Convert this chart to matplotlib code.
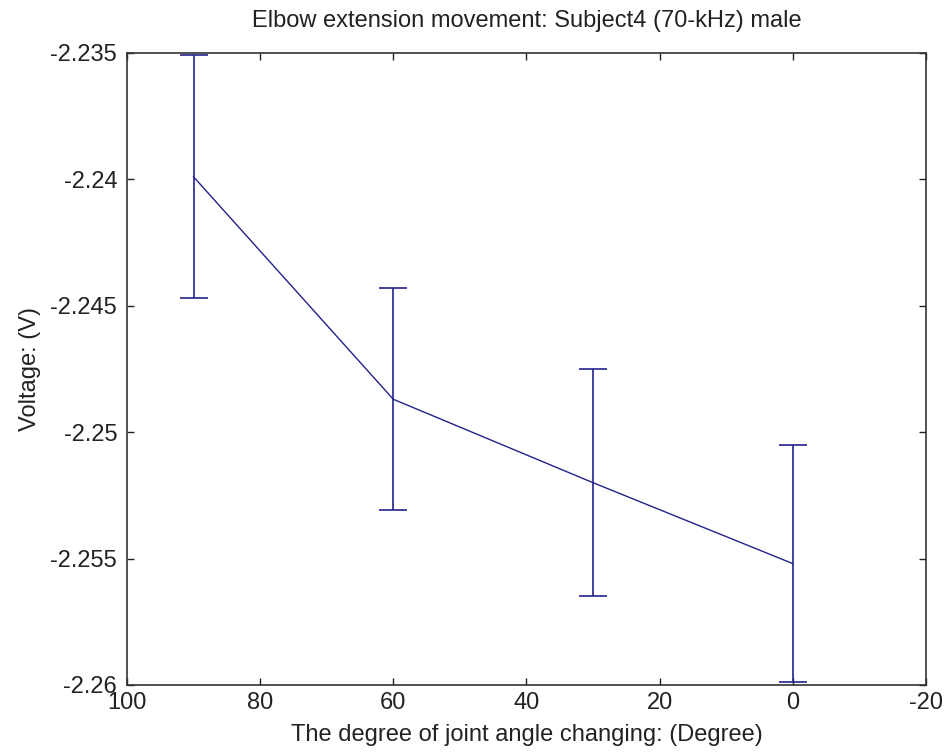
import matplotlib
matplotlib.use("Agg")
import matplotlib.pyplot as plt
from matplotlib.ticker import FixedLocator, FixedFormatter

plt.rcParams['font.family'] = ['Liberation Sans', 'DejaVu Sans']

# Joint angle (degrees) and mean voltage with its spread
angles = [90, 60, 30, 0]
voltage_mean = [-2.2399, -2.2487, -2.2520, -2.2552]
voltage_err = [0.0048, 0.0044, 0.0045, 0.0047]

x_ticks = [100, 80, 60, 40, 20, 0, -20]
x_tick_labels = ['100', '80', '60', '40', '20', '0', '-20']
y_ticks = [-2.235, -2.24, -2.245, -2.25, -2.255, -2.26]
y_tick_labels = ['-2.235', '-2.24', '-2.245', '-2.25', '-2.255', '-2.26']

title_text = 'Elbow extension movement: Subject4 (70-kHz) male'
x_label = 'The degree of joint angle changing: (Degree)'
y_label = 'Voltage: (V)'

fig = plt.figure(figsize=(9.46, 7.56), dpi=100)
ax = fig.add_axes([0.1342, 0.094, 0.8446, 0.836])

color = '#22228c'
ax.errorbar(angles, voltage_mean, yerr=voltage_err, color=color,
            ecolor=color, elinewidth=1.2, linewidth=1.0, capsize=10,
            capthick=1.2)

ax.set_xlim(100, -20)
ax.set_ylim(-2.26, -2.235)
ax.xaxis.set_major_locator(FixedLocator(x_ticks))
ax.xaxis.set_major_formatter(FixedFormatter(x_tick_labels))
ax.yaxis.set_major_locator(FixedLocator(y_ticks))
ax.yaxis.set_major_formatter(FixedFormatter(y_tick_labels))

ax.tick_params(direction='in', length=5, width=1, top=True, right=True,
               labelsize=17, colors='#222222')
ax.tick_params(axis='x', pad=5)
ax.tick_params(axis='y', pad=7)
for side in ax.spines.values():
    side.set_linewidth(1.2)
    side.set_color('#333333')

ax.set_title(title_text, fontsize=17, pad=19, color='#222222')
ax.set_xlabel(x_label, fontsize=17, labelpad=7, color='#222222')
ax.set_ylabel(y_label, fontsize=17, labelpad=7, color='#222222')

fig.savefig('out.png', dpi=100, facecolor='white')
